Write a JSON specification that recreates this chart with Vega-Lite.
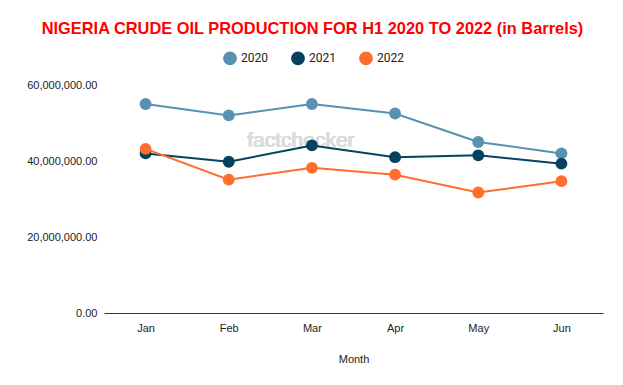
{
  "$schema": "https://vega.github.io/schema/vega-lite/v6.json",
  "width": 499,
  "height": 228,
  "autosize": "none",
  "padding": {"left": 104, "top": 85, "right": 20, "bottom": 72},
  "background": "white",
  "title": {
    "text": "NIGERIA CRUDE OIL PRODUCTION FOR H1 2020 TO 2022 (in Barrels)",
    "color": "#ff0000",
    "font": "Liberation Sans",
    "fontSize": 16.4,
    "fontWeight": "bold",
    "anchor": "middle",
    "frame": "group",
    "offset": 14,
    "dx": -41
  },
  "config": {
    "view": {"stroke": null},
    "font": "Liberation Sans",
    "axis": {"labelFont": "Liberation Sans", "titleFont": "Liberation Sans"},
    "axisX": {
      "titleFontSize": 11,
      "titleFontWeight": "normal",
      "titleColor": "#222222",
      "titlePadding": 20,
      "labelAngle": 0,
      "labelFontSize": 11,
      "labelColor": "#222222",
      "labelPadding": 9,
      "ticks": false,
      "domainColor": "#333333",
      "grid": false
    },
    "axisY": {
      "labelFontSize": 11,
      "labelColor": "#222222",
      "labelPadding": 7,
      "ticks": false,
      "domain": false,
      "gridColor": "#cccccc"
    },
    "scale": {"pointPadding": 0.5}
  },
  "data": {
    "values": [
      {"Month": "Jan", "Year": "2020", "Barrels": 55000000},
      {"Month": "Feb", "Year": "2020", "Barrels": 52000000},
      {"Month": "Mar", "Year": "2020", "Barrels": 55000000},
      {"Month": "Apr", "Year": "2020", "Barrels": 52500000},
      {"Month": "May", "Year": "2020", "Barrels": 45000000},
      {"Month": "Jun", "Year": "2020", "Barrels": 42000000},
      {"Month": "Jan", "Year": "2021", "Barrels": 42000000},
      {"Month": "Feb", "Year": "2021", "Barrels": 39800000},
      {"Month": "Mar", "Year": "2021", "Barrels": 44100000},
      {"Month": "Apr", "Year": "2021", "Barrels": 41000000},
      {"Month": "May", "Year": "2021", "Barrels": 41500000},
      {"Month": "Jun", "Year": "2021", "Barrels": 39300000},
      {"Month": "Jan", "Year": "2022", "Barrels": 43200000},
      {"Month": "Feb", "Year": "2022", "Barrels": 35100000},
      {"Month": "Mar", "Year": "2022", "Barrels": 38200000},
      {"Month": "Apr", "Year": "2022", "Barrels": 36400000},
      {"Month": "May", "Year": "2022", "Barrels": 31700000},
      {"Month": "Jun", "Year": "2022", "Barrels": 34700000}
    ]
  },
  "layer": [
    {
      "mark": {"type": "text", "text": "factchecker", "fontSize": 21, "fontWeight": "normal", "color": "#dcdcdc", "font": "Liberation Sans", "dx": -11},
      "encoding": {
        "x": {"datum": "Mar", "type": "nominal", "sort": ["Jan", "Feb", "Mar", "Apr", "May", "Jun"], "scale": {"type": "point", "padding": 0.5}, "title": "Month"},
        "y": {"datum": 45300000, "type": "quantitative", "scale": {"domain": [0, 60000000]}, "axis": {"title": null, "format": ",.2f", "values": [0, 20000000, 40000000, 60000000], "labelOverlap": false}}
      }
    },
    {
      "encoding": {
        "x": {
          "field": "Month",
          "type": "nominal",
          "sort": ["Jan", "Feb", "Mar", "Apr", "May", "Jun"],
          "scale": {"type": "point", "padding": 0.5},
          "title": "Month"
        },
        "y": {
          "field": "Barrels",
          "type": "quantitative",
          "scale": {"domain": [0, 60000000]},
          "axis": {
            "title": null,
            "format": ",.2f",
            "values": [0, 20000000, 40000000, 60000000],
            "labelOverlap": false
          }
        },
        "color": {
          "field": "Year",
          "type": "nominal",
          "scale": {"domain": ["2020", "2021", "2022"], "range": ["#5891b1", "#05425f", "#ff6d2f"]},
          "legend": {
            "title": null,
            "orient": "none",
            "legendX": 119,
            "legendY": -34,
            "direction": "horizontal",
            "symbolType": "circle",
            "symbolSize": 150,
            "symbolOpacity": 1,
            "labelFontSize": 12,
            "labelFont": "Roboto",
            "labelColor": "#222222",
            "columnPadding": 20
          }
        }
      },
      "layer": [
        {"mark": {"type": "line", "strokeWidth": 2}},
        {"mark": {"type": "point", "filled": true, "size": 140, "opacity": 1}}
      ]
    }
  ]
}
